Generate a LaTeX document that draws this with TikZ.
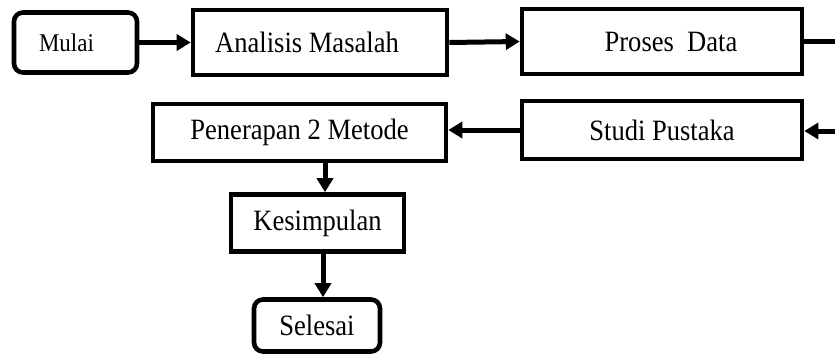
\documentclass[tikz,border=0pt]{standalone}
\usepackage{fontspec}
\setmainfont{Liberation Serif}[FakeStretch=0.9]
\usetikzlibrary{arrows.meta}
\begin{document}
\begin{tikzpicture}[x=1pt,y=-1pt,
  box/.style={draw,line width=4.6pt,inner sep=0pt,fill=white,
    font=\fontsize{29.5}{34}\selectfont},
  term/.style={box,rounded corners=9pt},
  arr/.style={line width=5pt,-{Triangle[length=14pt,width=16pt]}},
  ln/.style={line width=5pt}]
\useasboundingbox (0,0) rectangle (835,356);
\node[term,minimum width=123pt,minimum height=60pt,font=\fontsize{25.5}{30}\selectfont] (mulai) at (75.5,42.5) {\hspace*{-18pt}Mulai};
\node[box,minimum width=254pt,minimum height=65pt] (anal) at (320,42.5) {\hspace*{-26pt}Analisis Masalah};
\node[box,minimum width=280pt,minimum height=65pt] (pros) at (662,41.5) {\hspace*{18pt}Proses\ \ Data};
\node[box,minimum width=293pt,minimum height=57pt] (pen) at (299.5,132.5) {Penerapan 2 Metode};
\node[box,minimum width=280pt,minimum height=58pt] (stud) at (662,130) {Studi Pustaka};
\node[box,minimum width=173pt,minimum height=57pt] (kes) at (317.5,223) {Kesimpulan};
\node[term,minimum width=126pt,minimum height=52pt] (sel) at (317,325.5) {Selesai};
\coordinate (r1) at (840,43);
\coordinate (r2) at (840,131);
\coordinate (c1) at (325,0);
\coordinate (c2) at (323,0);
\draw[arr] (mulai.east) -- (anal.west);
\draw[arr] (anal.east) -- (pros.west);
\draw[ln] (pros.east) -- (pros.east -| r1);
\draw[arr] (r2) -- (r2 -| stud.east);
\draw[arr] (stud.west) -- (stud.west -| pen.east);
\draw[arr] (pen.south -| c1) -- (kes.north -| c1);
\draw[arr] (kes.south -| c2) -- (sel.north -| c2);
\end{tikzpicture}
\end{document}
